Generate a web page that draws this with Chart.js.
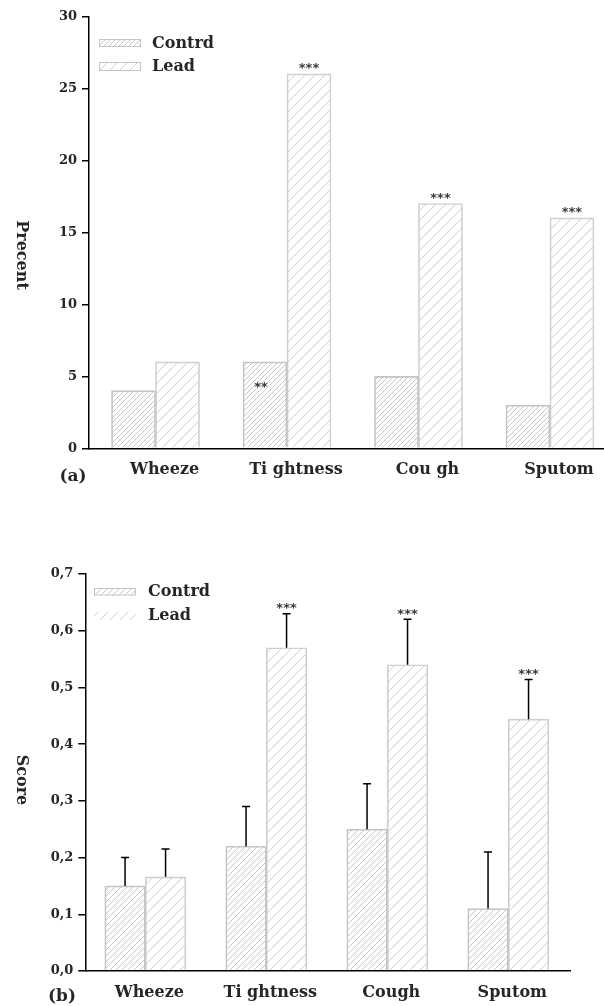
<!DOCTYPE html>
<html><head><meta charset="utf-8">
<script src="https://cdn.jsdelivr.net/npm/chart.js@4.4.1/dist/chart.umd.min.js"></script>
<style>
html,body{margin:0;padding:0;background:#fff;width:604px;height:1006px;overflow:hidden}
canvas{position:absolute;left:0}
#c1{top:0px}
#c2{top:540px}
</style></head><body>
<canvas id="c1" width="604" height="505"></canvas>
<canvas id="c2" width="604" height="466"></canvas>
<script>
// ---- data ----
const categoriesA = ['Wheeze', 'Ti ghtness', 'Cou gh', 'Sputom'];
const categoriesB = ['Wheeze', 'Ti ghtness', 'Cough', 'Sputom'];
const seriesNames = ['Contrd', 'Lead'];
const percentControl = [4, 6, 5, 3];
const percentLead = [6, 26, 17, 16];
const percentSigControl = ['', '**', '', ''];
const percentSigLead = ['', '***', '***', '***'];
const percentTicks = [0, 5, 10, 15, 20, 25, 30];
const scoreControl = [0.15, 0.22, 0.25, 0.11];
const scoreLead = [0.166, 0.57, 0.54, 0.444];
const scoreErrControl = [0.05, 0.07, 0.08, 0.10];
const scoreErrLead = [0.049, 0.06, 0.08, 0.07];
const scoreSigControl = ['', '', '', ''];
const scoreSigLead = ['', '***', '***', '***'];
const scoreTicks = [0, 0.1, 0.2, 0.3, 0.4, 0.5, 0.6, 0.7];
const panelLabels = ['(a)', '(b)'];
const yTitles = ['Precent', 'Score'];

// ---- styles ----
const FONT = '"DejaVu Serif", "Liberation Serif", serif';
const SIGFONT = '"DejaVu Sans", sans-serif';
const TXT = '#262626';

function hatch(ctx, tile, color, lw) {
  const c = document.createElement('canvas');
  c.width = c.height = tile;
  const g = c.getContext('2d');
  g.strokeStyle = color; g.lineWidth = lw;
  g.beginPath();
  g.moveTo(-tile, 2 * tile); g.lineTo(2 * tile, -tile);
  g.moveTo(-tile, tile); g.lineTo(tile, -tile);
  g.moveTo(0, 2 * tile); g.lineTo(2 * tile, 0);
  g.stroke();
  return ctx.createPattern(c, 'repeat');
}

const annot = {
  id: 'annot',
  afterDatasetsDraw(chart, args, o) {
    const ctx = chart.ctx;
    const ys = chart.scales.y;
    ctx.save();
    chart.data.datasets.forEach((ds, di) => {
      const meta = chart.getDatasetMeta(di);
      meta.data.forEach((bar, i) => {
        let top = bar.y;
        const err = ds.errors ? ds.errors[i] : null;
        if (err) {
          const yv = ds.data[i].y + err;
          const ye = ys.getPixelForValue(yv);
          ctx.strokeStyle = '#000'; ctx.lineWidth = 1.5;
          ctx.beginPath();
          ctx.moveTo(bar.x, bar.y); ctx.lineTo(bar.x, ye);
          ctx.moveTo(bar.x - 4, ye); ctx.lineTo(bar.x + 4, ye);
          ctx.stroke();
          top = ye;
        }
        const s = ds.sig ? ds.sig[i] : '';
        if (s) {
          ctx.fillStyle = '#3a3a3a';
          ctx.font = 'bold 13px ' + SIGFONT;
          ctx.textAlign = 'center'; ctx.textBaseline = 'middle';
          if (ds.sigInside) {
            ctx.fillText(s, bar.x - 4, bar.y + 0.28 * (bar.base - bar.y) + 2);
          } else {
            ctx.fillText(s, bar.x, top - 5);
          }
        }
      });
    });
    // legend
    const L = o.legend;
    chart.data.datasets.forEach((ds, di) => {
      const it = L.items[di];
      ctx.fillStyle = ds.backgroundColor;
      ctx.fillRect(L.x, it.y, L.w, it.h);
      if (it.border) {
        ctx.strokeStyle = '#c4c4c4'; ctx.lineWidth = 1;
        ctx.strokeRect(L.x + 0.5, it.y + 0.5, L.w - 1, it.h - 1);
      }
      ctx.fillStyle = TXT;
      ctx.font = 'bold 16px ' + FONT;
      ctx.textAlign = 'left'; ctx.textBaseline = 'middle';
      ctx.fillText(ds.label, L.tx, it.ty);
    });
    // panel label
    ctx.fillStyle = TXT;
    ctx.font = 'bold 17px ' + FONT;
    ctx.textAlign = 'center'; ctx.textBaseline = 'middle';
    ctx.fillText(o.panel.text, o.panel.x, o.panel.y);
    // rotated y title (reads top to bottom)
    ctx.save();
    ctx.translate(o.ytitle.x, o.ytitle.y);
    ctx.rotate(Math.PI / 2);
    ctx.font = 'bold 16px ' + FONT;
    ctx.fillText(o.ytitle.text, 0, 0);
    ctx.restore();
    ctx.restore();
  }
};

function makeChart(id, cfg) {
  const canvas = document.getElementById(id);
  const ctx = canvas.getContext('2d');
  const pc = hatch(ctx, cfg.tileC, '#c2c2c2', 0.9);
  const pl = hatch(ctx, cfg.tileL, '#cbcbcb', 0.9);
  return new Chart(ctx, {
    type: 'bar',
    data: {
      datasets: [
        { label: seriesNames[0], data: cfg.control.map((v, i) => ({ x: i, y: v })),
          backgroundColor: pc, borderColor: '#c4c4c4', borderWidth: 1,
          errors: cfg.errC, sig: cfg.sigC, sigInside: true },
        { label: seriesNames[1], data: cfg.lead.map((v, i) => ({ x: i, y: v })),
          backgroundColor: pl, borderColor: '#cfcfcf', borderWidth: 1,
          errors: cfg.errL, sig: cfg.sigL, sigInside: false }
      ]
    },
    plugins: [annot],
    options: {
      responsive: false, animation: false, devicePixelRatio: 1,
      layout: { padding: cfg.padding },
      datasets: { bar: { barThickness: cfg.barW, grouped: true } },
      plugins: {
        legend: { display: false }, tooltip: { enabled: false },
        annot: { legend: cfg.legend, panel: cfg.panel, ytitle: cfg.ytitle }
      },
      scales: {
        x: {
          type: 'linear', min: cfg.xmin, max: cfg.xmax, offset: false,
          afterBuildTicks: (a) => { a.ticks = cfg.cats.map((c, i) => ({ value: i })); },
          afterFit: (s) => { s.height = cfg.xh; },
          grid: { drawOnChartArea: false, drawTicks: false, offset: false },
          border: { color: '#000', width: 1.5 },
          ticks: {
            callback: (v) => cfg.cats[v], autoSkip: false, maxRotation: 0,
            padding: 12, labelOffset: cfg.labelOffset, color: TXT,
            font: { family: FONT, size: 16, weight: 'bold' }
          }
        },
        y: {
          min: 0, max: cfg.ymax,
          afterBuildTicks: (a) => { a.ticks = cfg.yticks.map(v => ({ value: v })); },
          afterFit: (s) => { s.width = cfg.yw; },
          grid: { drawOnChartArea: false, drawTicks: true, tickLength: 7, color: '#000', lineWidth: 1.5 },
          border: { color: '#000', width: 1.5 },
          ticks: {
            callback: cfg.fmt, padding: 5, color: TXT,
            font: { family: FONT, size: 13, weight: 'bold' }
          }
        }
      }
    }
  });
}

makeChart('c1', {
  cats: categoriesA, control: percentControl, lead: percentLead,
  errC: null, errL: null, sigC: percentSigControl, sigL: percentSigLead,
  yticks: percentTicks, ymax: 30, fmt: (v) => String(v),
  xmin: -0.506, xmax: 3.411, barW: 44, yw: 89, xh: 56.7,
  padding: { top: 16.3, right: 0, bottom: 0, left: 0 },
  labelOffset: 9, tileC: 5, tileL: 10,
  legend: { x: 99, w: 42, tx: 152, items: [ { y: 39, h: 8, ty: 43.5, border: true }, { y: 62, h: 9, ty: 67, border: true } ] },
  panel: { text: panelLabels[0], x: 73, y: 477 },
  ytitle: { text: yTitles[0], x: 21, y: 255 }
});

makeChart('c2', {
  cats: categoriesB, control: scoreControl, lead: scoreLead,
  errC: scoreErrControl, errL: scoreErrLead, sigC: scoreSigControl, sigL: scoreSigLead,
  yticks: scoreTicks, ymax: 0.7, fmt: (v) => v.toFixed(1).replace('.', ','),
  xmin: -0.496, xmax: 3.51, barW: 40.5, yw: 85.3, xh: 35,
  padding: { top: 34, right: 34, bottom: 0, left: 0 },
  labelOffset: 4, tileC: 6, tileL: 10,
  legend: { x: 94, w: 42, tx: 148, items: [ { y: 48, h: 7.5, ty: 52, border: true }, { y: 71.5, h: 8.5, ty: 75.5, border: false } ] },
  panel: { text: panelLabels[1], x: 62, y: 456.5 },
  ytitle: { text: yTitles[1], x: 21, y: 240 }
});
</script>
</body></html>
